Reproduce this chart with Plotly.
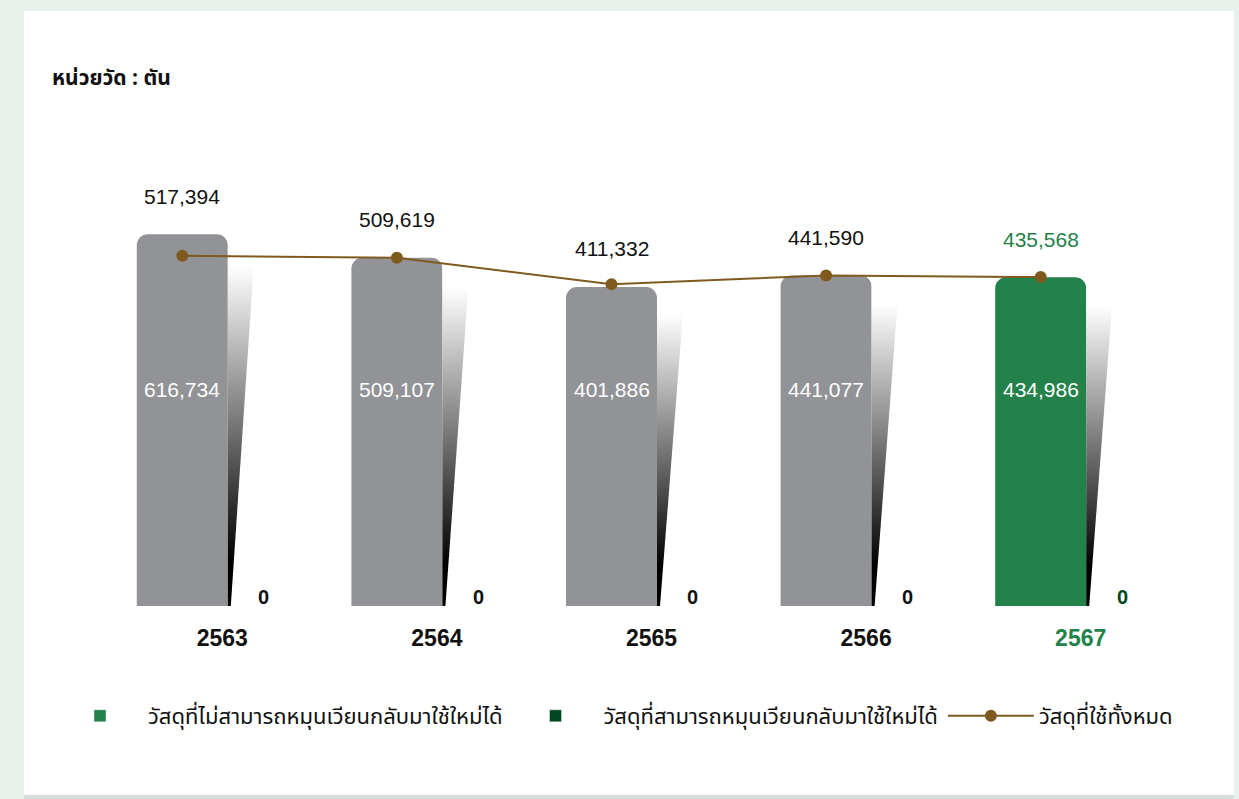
import math
import plotly.graph_objects as go

# ---------------- data ----------------
years = ["2563", "2564", "2565", "2566", "2567"]
non_recyclable = [616734, 509107, 401886, 441077, 434986]
recyclable = [0, 0, 0, 0, 0]
total_used = [517394, 509619, 411332, 441590, 435568]

name_non = "วัสดุที่ไม่สามารถหมุนเวียนกลับมาใช้ใหม่ได้"
name_rec = "วัสดุที่สามารถหมุนเวียนกลับมาใช้ใหม่ได้"
name_tot = "วัสดุที่ใช้ทั้งหมด"
unit_label = "หน่วยวัด : ตัน"

# ---------------- style ----------------
W, H = 1239, 799
ML, MR, MT, MB = 115, 51, 100, 193
LOG_MIN, LOG_MAX = 4.4797, 6.2632

GRAY = "#929397"
GREEN = "#23814A"
DARK_GREEN = "#00461F"
BROWN = "#7E5A1F"
OUTER_BG = "#E8F1EC"
THAI = "Noto Sans Thai, Noto Sans, DejaVu Sans, sans-serif"
NUM = "Liberation Sans, Arial, sans-serif"

BAR_W = 0.424          # bar width in category units
BAR_SHIFT = -0.1864    # centre of the main bar relative to the category
ZERO_SHIFT = 0.193     # position of the zero-valued series label
WEDGE_TOP = 0.13
WEDGE_BOT = 0.014


def px_x(px):
    return (px - ML) / (W - ML - MR)


def px_y(py):
    return (H - MB - py) / (H - MT - MB)


xs = list(range(len(years)))
x_bar = [i + BAR_SHIFT for i in xs]
bar_colors = [GRAY] * (len(years) - 1) + [GREEN]

fig = go.Figure()

# gradient wedges (decorative shadow to the right of every bar)
floor_val = 10 ** LOG_MIN
for i, v in zip(xs, non_recyclable):
    r = i + BAR_SHIFT + BAR_W / 2
    fig.add_trace(go.Scatter(
        x=[r, r + WEDGE_TOP, r + WEDGE_BOT, r, r],
        y=[v * 0.985, v * 0.985, floor_val, floor_val, v * 0.985],
        mode="lines", line=dict(width=0), fill="toself",
        fillgradient=dict(type="vertical",
                          colorscale=[[0, "#000000"], [0.12, "#000000"],
                                      [0.92, "#ffffff"], [1, "#ffffff"]]),
        showlegend=False, hoverinfo="skip"))

fig.add_trace(go.Bar(
    x=x_bar, y=non_recyclable, width=BAR_W, name=name_non,
    marker=dict(color=bar_colors, cornerradius=11, line=dict(width=0)),
    showlegend=False))
fig.add_trace(go.Bar(
    x=[i + ZERO_SHIFT for i in xs], y=recyclable, width=BAR_W, name=name_rec,
    marker=dict(color=DARK_GREEN, line=dict(width=0)), showlegend=False))

# legend entries (series colours as shown in the legend)
fig.add_trace(go.Bar(x=[None], y=[None], name=name_non,
                     marker=dict(color=GREEN), legendrank=1))
fig.add_trace(go.Bar(x=[None], y=[None], name=name_rec,
                     marker=dict(color=DARK_GREEN), legendrank=2))

fig.add_trace(go.Scatter(
    x=x_bar, y=total_used, name=name_tot, mode="lines+markers",
    line=dict(color=BROWN, width=2), marker=dict(color=BROWN, size=12),
    legendrank=3))

annotations = []
for i, (nv, rv, tv) in enumerate(zip(non_recyclable, recyclable, total_used)):
    last = i == len(years) - 1
    col = GREEN if last else "#111111"
    # total value above the bar
    annotations.append(dict(
        x=i + BAR_SHIFT, y=math.log10(nv), xref="x", yref="y", text=f"{tv:,}",
        showarrow=False, yanchor="middle", yshift=38,
        font=dict(family=NUM, size=21, color=col)))
    # value inside the bar
    annotations.append(dict(
        x=i + BAR_SHIFT, y=px_y(389), xref="x", yref="paper", text=f"{nv:,}",
        showarrow=False, yanchor="middle",
        font=dict(family=NUM, size=21, color="#ffffff")))
    # zero series label
    annotations.append(dict(
        x=i + ZERO_SHIFT, y=px_y(597), xref="x", yref="paper", text=f"<b>{rv:,}</b>",
        showarrow=False, yanchor="middle",
        font=dict(family=NUM, size=20, color=DARK_GREEN if last else "#111111")))

annotations.append(dict(
    x=px_x(50), y=px_y(78), xref="paper", yref="paper", text=f"<b>{unit_label}</b>",
    showarrow=False, xanchor="left", yanchor="middle",
    font=dict(family=THAI, size=21, color="#111111")))

ticktext = [f"<b>{y}</b>" for y in years[:-1]] + \
    [f"<b><span style='color:{GREEN}'>{years[-1]}</span></b>"]

shapes = [
    dict(type="rect", xref="paper", yref="paper", layer="below",
         x0=px_x(24), x1=px_x(1234), y0=px_y(799), y1=px_y(11),
         fillcolor="#D6DDDA", line=dict(width=0)),
    dict(type="rect", xref="paper", yref="paper", layer="below",
         x0=px_x(24), x1=px_x(1234), y0=px_y(795), y1=px_y(11),
         fillcolor="#ffffff", line=dict(width=0)),
]

fig.update_layout(
    width=W, height=H,
    margin=dict(l=ML, r=MR, t=MT, b=MB, autoexpand=False),
    paper_bgcolor=OUTER_BG, plot_bgcolor="rgba(0,0,0,0)",
    barmode="overlay",
    showlegend=True,
    legend=dict(orientation="h", x=px_x(52), y=px_y(716), xanchor="left",
                yanchor="middle", font=dict(family=THAI, size=22, color="#111111"),
                bgcolor="rgba(0,0,0,0)", itemwidth=86, traceorder="normal"),
    xaxis=dict(range=[-0.5, len(years) - 0.5], tickmode="array", tickvals=xs,
               ticktext=ticktext, showgrid=False, zeroline=False, showline=False,
               ticks="outside", ticklen=11, tickcolor="rgba(0,0,0,0)",
               tickfont=dict(family=NUM, size=23, color="#111111"), fixedrange=True),
    yaxis=dict(type="log", range=[LOG_MIN, LOG_MAX], visible=False,
               showgrid=False, zeroline=False, fixedrange=True),
    annotations=annotations,
    shapes=shapes,
    hovermode=False,
)

fig.write_html(
    "out.html",
    config={"displayModeBar": False},
    post_script=("document.body.style.margin='0';"
                 "document.body.style.overflow='hidden';"
                 f"document.body.style.background='{OUTER_BG}';"),
)
